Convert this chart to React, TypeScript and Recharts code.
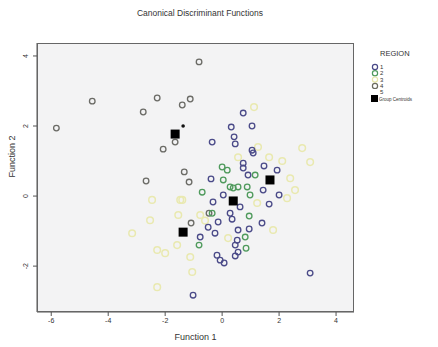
import React from 'react';
import { ScatterChart, Scatter, XAxis, YAxis, CartesianGrid } from 'recharts';

const xTicks = [-6, -4, -2, 0, 2, 4];
const yTicks = [-2, 0, 2, 4];

const region1 = [
  { x: 0.74, y: 2.37 }, { x: 0.32, y: 1.97 }, { x: 1.05, y: 2.0 }, { x: -0.35, y: 1.54 },
  { x: 0.42, y: 1.69 }, { x: 0.46, y: 1.49 }, { x: 1.05, y: 1.31 }, { x: 1.09, y: 1.23 },
  { x: 1.47, y: 0.86 }, { x: 1.93, y: 0.74 }, { x: 0.74, y: 0.94 }, { x: 0.74, y: 0.8 },
  { x: 0.91, y: 0.6 }, { x: -0.39, y: 0.49 }, { x: 1.44, y: 0.17 }, { x: 2.0, y: 0.03 },
  { x: 1.65, y: -0.23 }, { x: 0.04, y: 0.03 }, { x: -0.32, y: -0.17 }, { x: 0.63, y: -0.31 },
  { x: 1.4, y: -0.77 }, { x: 0.28, y: -0.49 }, { x: 0.35, y: -0.66 }, { x: -0.14, y: -0.74 },
  { x: -0.49, y: -0.89 }, { x: -0.25, y: -1.06 }, { x: -0.77, y: -1.17 }, { x: 0.56, y: -0.97 },
  { x: 0.95, y: -0.94 }, { x: 0.53, y: -1.26 }, { x: 0.46, y: -1.4 }, { x: 0.56, y: -1.6 },
  { x: 0.46, y: -1.71 }, { x: -0.18, y: -1.69 }, { x: -0.07, y: -1.83 }, { x: 0.07, y: -1.91 },
  { x: -1.02, y: -2.83 }, { x: 3.09, y: -2.2 },
];

const region2 = [
  { x: 0.0, y: 0.83 }, { x: 0.18, y: 0.74 }, { x: 1.16, y: 0.6 }, { x: -0.7, y: 0.11 },
  { x: 0.88, y: 0.26 }, { x: 0.56, y: 0.26 }, { x: 0.28, y: 0.26 }, { x: 0.95, y: -0.57 },
  { x: 0.81, y: -1.17 }, { x: -0.81, y: -1.4 }, { x: 0.84, y: -1.49 }, { x: -0.35, y: -0.49 },
  { x: 0.98, y: 0.03 }, { x: 0.04, y: 0.46 }, { x: 0.39, y: 0.23 },
];

const region3 = [
  { x: 1.12, y: 2.54 }, { x: 1.26, y: 1.4 }, { x: 0.56, y: 1.11 }, { x: 1.65, y: 1.11 },
  { x: 2.11, y: 1.0 }, { x: 2.81, y: 1.37 }, { x: 3.09, y: 0.97 }, { x: 2.39, y: 0.51 },
  { x: 2.56, y: 0.17 }, { x: 2.28, y: -0.06 }, { x: 1.23, y: -0.2 }, { x: 1.79, y: -0.97 },
  { x: 0.21, y: -1.2 }, { x: -0.77, y: -0.54 }, { x: -1.4, y: -0.11 }, { x: -2.46, y: -0.11 },
  { x: -2.53, y: -0.69 }, { x: -3.16, y: -1.06 }, { x: -2.28, y: -1.54 }, { x: -2.0, y: -1.63 },
  { x: -1.58, y: -1.4 }, { x: -1.47, y: -0.11 }, { x: -1.54, y: -0.54 }, { x: -1.12, y: -1.74 },
  { x: -1.05, y: -2.17 }, { x: -2.28, y: -2.6 }, { x: -0.6, y: -0.7 },
];

const region4 = [
  { x: -0.81, y: 3.83 }, { x: -4.56, y: 2.71 }, { x: -2.28, y: 2.8 }, { x: -1.4, y: 2.6 },
  { x: -1.12, y: 2.77 }, { x: -2.77, y: 2.4 }, { x: -5.82, y: 1.94 }, { x: -1.65, y: 1.54 },
  { x: -2.07, y: 1.34 }, { x: -1.33, y: 0.69 }, { x: -2.67, y: 0.43 }, { x: -1.16, y: 0.4 },
  { x: -1.09, y: -0.77 }, { x: -0.46, y: -0.49 },
];

const region5 = [{ x: -1.37, y: 2.0 }];

const centroids = [
  { x: -1.65, y: 1.77 }, { x: -1.37, y: -1.03 }, { x: 0.39, y: -0.14 }, { x: 1.68, y: 0.46 },
];

const legendItems = [
  { label: '1', color: '#4a4a88', kind: 'circle' },
  { label: '2', color: '#4f9a5c', kind: 'circle' },
  { label: '3', color: '#e6e6a8', kind: 'circle' },
  { label: '4', color: '#6b6b60', kind: 'circle' },
  { label: '5', color: '#ffffff', kind: 'none' },
  { label: 'Group Centroids', color: '#000000', kind: 'square' },
];

const font = '"Liberation Sans", Arial, sans-serif';

const ring = (color: string, r = 2.8, w = 1.3) => (p: any) => (
  <circle cx={p.cx} cy={p.cy} r={r} fill="none" stroke={color} strokeWidth={w} />
);

const square = (p: any) => (
  <rect x={p.cx - 4.5} y={p.cy - 4.5} width={9} height={9} fill="#000" />
);

const dot = (p: any) => <circle cx={p.cx} cy={p.cy} r={1.8} fill="#111" />;

const YTick = (props: any) => {
  const { x, y, payload } = props;
  return (
    <text x={x - 3} y={y} transform={`rotate(-90 ${x - 3} ${y})`} textAnchor="middle" fontSize={7} fill="#333" fontFamily={font}>
      {payload.value}
    </text>
  );
};

const RegionLegend = () => (
  <svg width={74} height={60} style={{ position: 'absolute', left: 366, top: 50, overflow: 'visible' }}>
    <text x={14} y={6} fontSize={7.5} fill="#333" fontFamily={font}>REGION</text>
    {legendItems.map((it, i) => {
      const y = 17 + i * 6.3;
      return (
        <g key={it.label}>
          {it.kind === 'circle' && <circle cx={9} cy={y} r={2.6} fill="none" stroke={it.color} strokeWidth={1.2} />}
          {it.kind === 'square' && <rect x={5} y={y - 3.5} width={7} height={7} fill="#000" />}
          <text x={it.kind === 'square' ? 13 : 14} y={y + 2} fontSize={it.kind === 'square' ? 4.5 : 6} fill="#333" fontFamily={font}>
            {it.label}
          </text>
        </g>
      );
    })}
  </svg>
);

export default function App() {
  return (
    <div style={{ position: 'absolute', left: 0, top: 0, width: 438, height: 347, background: '#fff', fontFamily: font }}>
      <div style={{ position: 'absolute', left: 0, width: 400, top: 8, textAlign: 'center', fontSize: 8.5, color: '#333' }}>
        Canonical Discriminant Functions
      </div>
      <ScatterChart width={438} height={347} margin={{ top: 43, right: 84, bottom: 0, left: 7 }}>
        <CartesianGrid fill="#f3f3f4" horizontal={false} vertical={false} />
        <XAxis
          type="number"
          dataKey="x"
          domain={[-6.5, 4.63]}
          ticks={xTicks}
          allowDataOverflow
          height={35}
          stroke="#555"
          tickSize={4}
          tick={{ fontSize: 7, fill: '#333', fontFamily: font }}
          label={{ value: 'Function 1', position: 'insideBottom', offset: 7, fontSize: 9, fill: '#333', fontFamily: font }}
        />
        <YAxis
          type="number"
          dataKey="y"
          domain={[-3.31, 4.37]}
          ticks={yTicks}
          allowDataOverflow
          width={30}
          stroke="#555"
          tickSize={4}
          tick={<YTick />}
          label={{ value: 'Function 2', angle: -90, position: 'insideLeft', offset: 5, fontSize: 9, fill: '#333', fontFamily: font }}
        />
        <Scatter name="3" data={region3} shape={ring('#e9e9b0', 3.3, 1.5)} isAnimationActive={false} />
        <Scatter name="4" data={region4} shape={ring('#6b6b66')} isAnimationActive={false} />
        <Scatter name="2" data={region2} shape={ring('#4f9a5c')} isAnimationActive={false} />
        <Scatter name="1" data={region1} shape={ring('#4a4a88')} isAnimationActive={false} />
        <Scatter name="5" data={region5} shape={dot} isAnimationActive={false} />
        <Scatter name="Group Centroids" data={centroids} shape={square} isAnimationActive={false} />
      </ScatterChart>
      <RegionLegend />
      <div style={{ position: 'absolute', left: 37, top: 43, width: 317, height: 269, border: '1px solid #666', boxSizing: 'border-box', pointerEvents: 'none', zIndex: 10 }} />
    </div>
  );
}
